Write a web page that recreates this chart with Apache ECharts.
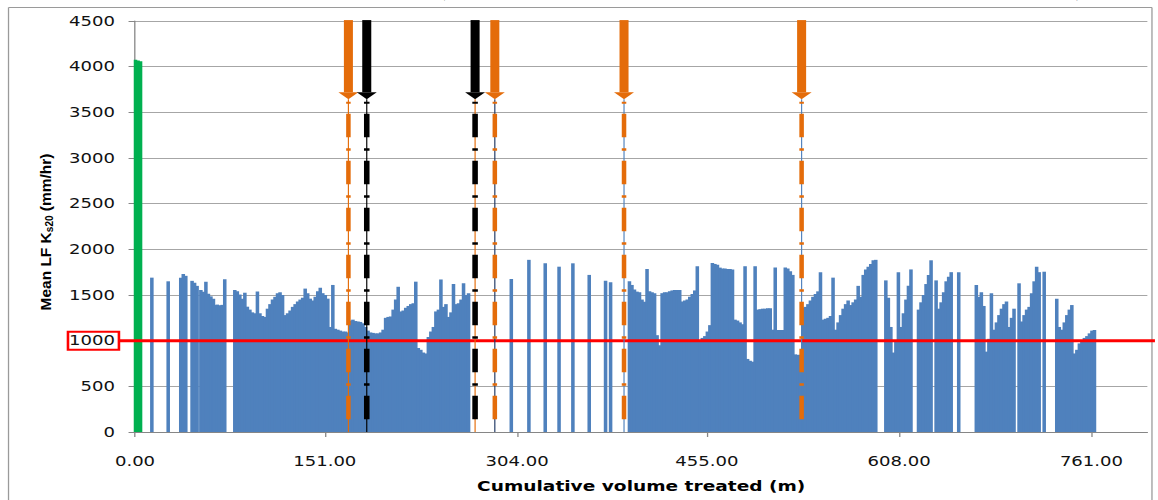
<!DOCTYPE html>
<html><head><meta charset="utf-8">
<script src="https://cdn.jsdelivr.net/npm/echarts@6/dist/echarts.min.js"></script>
<style>
html,body{margin:0;padding:0;background:#fff;overflow:hidden;width:1158px;height:500px}
#main{width:897.67px;height:500px;transform:scaleX(1.29);transform-origin:0 0;}
</style>
</head><body><div id="main"></div>
<script>
// ---------------- DATA ----------------
const xTickLabels = [0, 151, 304, 455, 608, 761];
const yMax = 4500;
const threshold = 1000;

const greenX = [0, 2, 4];
const greenValues = [4075, 4068, 4060];

const barStep = 2; // spacing of consecutive volumes inside a run
const blueRunStart = [13, 26, 36, 45, 52, 63, 79, 89, 299, 313, 326, 337, 348, 361, 374, 378, 393, 597, 623, 637, 655, 669, 695, 703, 713, 723, 733];
const blueRunValues = [
  [1690],
  [1650],
  [1690, 1730, 1710],
  [1655, 1635, 1600],
  [1555, 1535, 1645, 1515, 1485, 1460],
  [1390, 1395, 1388, 1392, 1672],
  [1555, 1540, 1505, 1460, 1525],
  [1372,1340,1310,1300,1537,1300,1270,1260,1350,1400,
   1450,1480,1520,1530,1500,1280,1300,1330,1370,1400,
   1430,1450,1470,1570,1520,1460,1440,1480,1540,1580,
   1520,1500,1460,1150,1610,1130,1120,1110,1100,1100,
   1090,1220,1230,1215,1210,1205,1190,1150,1110,1090,
   1085,1080,1080,1090,1120,1250,1260,1265,1340,1450,
   1590,1320,1330,1360,1380,1400,1410,1646,920,900,
   870,860,1040,1100,1150,1320,1340,1670,1370,1400,
   1260,1310,1620,1400,1410,1450,1630,1500,1520],
  [1675],
  [1885],
  [1847],
  [1810],
  [1847],
  [1720],
  [1657],
  [1640],
  [1650,1610,1560,1537,1530,1450,1427,1785,1540,1530,
   1520,1060,950,1520,1530,1530,1540,1550,1555,1555,
   1555,1430,1440,1450,1480,1510,1550,1815,1000,1030,
   1050,1100,1170,1850,1840,1830,1800,1790,1790,1785,
   1785,1780,1230,1220,1200,1180,1815,800,780,770,
   1815,1340,1345,1350,1350,1355,1355,1120,1800,1117,
   1117,1117,1800,1790,1760,1720,850,845,845,1360,
   1370,1400,1440,1480,1510,1540,1750,1230,1240,1250,
   1270,1690,1120,1200,1280,1350,1400,1440,1390,1420,
   1450,1600,1480,1720,1780,1810,1840,1880,1885],
  [1660,1470,1150,870,1000,1750,1150,1300,1450,1600,1780],
  [1340,1420,1500,1620,1720,1880],
  [1660,1350,1420,1530,1650,1700,1750],
  [1750],
  [1610,1480,1530,1380,880,1020,1520,1120,1200,1280,1350,1400,1430],
  [1150,1250,1350],
  [1628,1210,1280,1340,1370],
  [1520,1650,1810,1750],
  [1755],
  [1460,1150,1120,1200,1280,1340,1390,860,900,970,1000,1030,1050,1080,1110,1117]
];

// event markers (arrow + dash-dot line)
const markerX = [169.8, 184.4, 270.6, 286.3, 389.1, 530.4];
const markerKind = ['orange', 'black', 'black', 'orange', 'orange', 'orange'];
const arrowTop = 4510, arrowBase = 3720, arrowTip = 3643;
const lineTop = 3617, lineBottom = 137;

// ---------------- STYLE ----------------
const STRETCH = 1.29;
const BLUE = '#4f81bd', GREEN = '#00b050', ORANGE = '#e46c0a', RED = '#ff0000';
const kindStyle = {
  orange: {color: ORANGE, dashWidth: 3.5},
  black: {color: '#000000', dashWidth: 4.3}
};
const thinColors = [ORANGE, '#000000', ORANGE, '#1f3864', BLUE, BLUE];

// ---------------- BUILD ----------------
const greenData = greenX.map((x, i) => [x, greenValues[i]]);
const blueData = [];
blueRunStart.forEach((s, r) => {
  blueRunValues[r].forEach((v, i) => blueData.push([s + i * barStep, v]));
});

function barRenderer(color) {
  return (params, api) => {
    const x = api.value(0), v = api.value(1);
    const p = api.coord([x, v]);
    const p0 = api.coord([x, 0]);
    const w = api.size([barStep, 0])[0];
    return {type: 'rect', shape: {x: p[0] - w / 2, y: p[1], width: w + 0.8, height: p0[1] - p[1]}, style: {fill: color}};
  };
}

const chart = echarts.init(document.getElementById('main'), null, {renderer: 'svg'});
const tickFont = {fontFamily: '"DejaVu Sans", Verdana, sans-serif', fontSize: 14, color: '#111'};

chart.setOption({
  animation: false,
  grid: {left: 104.65, right: 8.57, top: 21, bottom: 68, containLabel: false},
  xAxis: {
    type: 'value', min: 0, max: 805.5,
    axisLine: {show: true, lineStyle: {color: '#868686', width: 1}},
    axisTick: {show: true, length: 5, customValues: xTickLabels, lineStyle: {color: '#868686'}},
    axisLabel: Object.assign({customValues: xTickLabels, margin: 22, formatter: v => Number(v).toFixed(2)}, tickFont),
    splitLine: {show: false},
    name: 'Cumulative volume treated (m)',
    nameLocation: 'middle', nameGap: 47,
    nameTextStyle: {fontFamily: '"DejaVu Sans", Verdana, sans-serif', fontWeight: 'bold', fontSize: 14.4, color: '#000'}
  },
  yAxis: {
    type: 'value', min: 0, max: yMax, interval: 500,
    axisLine: {show: true, lineStyle: {color: '#868686', width: 1}},
    axisTick: {show: true, length: 5, lineStyle: {color: '#868686'}},
    axisLabel: Object.assign({margin: 15.5, formatter: v => String(v)}, tickFont),
    splitLine: {show: true, lineStyle: {color: '#a6a6a6', width: 1}}
  },
  graphic: [
    {type: 'text', x: 148, y: -1.5, style: {text: 'Filtering capacity (Ks20 over time, top media renewal at clogging)', font: '26px "Liberation Serif", serif', fill: '#000', verticalAlign: 'bottom', align: 'left'}, silent: true},
    {type: 'text', x: 34.9, y: 232, rotation: Math.PI / 2, scaleY: 1 / STRETCH,
      style: {text: '{m|Mean LF K}{s|s20}{m| (mm/hr)}', align: 'center', verticalAlign: 'middle',
        rich: {
          m: {fontFamily: '"Liberation Sans", Arial, sans-serif', fontWeight: 'bold', fontSize: 15.5, lineHeight: 18, fill: '#000', verticalAlign: 'middle'},
          s: {fontFamily: '"Liberation Sans", Arial, sans-serif', fontWeight: 'bold', fontSize: 10, lineHeight: 10, fill: '#000', verticalAlign: 'bottom'}
        }}, silent: true}
  ],
  series: [
    {type: 'custom', data: greenData, renderItem: barRenderer(GREEN), z: 2, silent: true},
    {type: 'custom', data: blueData, renderItem: barRenderer(BLUE), z: 2, silent: true},
    {
      type: 'custom', z: 4, clip: false, silent: true,
      data: [[0, threshold]],
      renderItem: (params, api) => {
        const p = api.coord([0, api.value(1)]);
        return {type: 'group', children: [
          {type: 'line', shape: {x1: 6.6, y1: 7.5, x2: 893, y2: 7.5}, style: {stroke: '#9a9a9a', lineWidth: 1}},
          {type: 'line', shape: {x1: 6.6, y1: 7.5, x2: 6.6, y2: 500}, style: {stroke: '#9a9a9a', lineWidth: 1}},
          {type: 'line', shape: {x1: 893, y1: 7.5, x2: 893, y2: 500}, style: {stroke: '#9a9a9a', lineWidth: 1}},
          {type: 'line', shape: {x1: 93, y1: p[1], x2: 895.3, y2: p[1]}, style: {stroke: RED, lineWidth: 3}},
          {type: 'rect', shape: {x: 52.7, y: p[1] - 9, width: 39.5, height: 18}, style: {fill: 'none', stroke: RED, lineWidth: 2}}
        ]};
      }
    },
    {
      type: 'custom', z: 5, clip: false, silent: true,
      data: markerX.map(x => [x, arrowTop]),
      renderItem: (params, api) => {
        const i = params.dataIndex;
        const st = kindStyle[markerKind[i]];
        const x = api.value(0);
        const top = api.coord([x, arrowTop]);
        const base = api.coord([x, arrowBase]);
        const tip = api.coord([x, arrowTip]);
        const l1 = api.coord([x, lineTop]);
        const l2 = api.coord([x, lineBottom]);
        const ax = api.coord([x, 0]);
        const cx = top[0];
        const halfShaft = 3.5, halfHead = 7.75;
        return {type: 'group', children: [
          {type: 'line', shape: {x1: cx, y1: tip[1], x2: cx, y2: ax[1]}, style: {stroke: thinColors[i], lineWidth: 0.9}},
          {type: 'rect', shape: {x: cx - halfShaft, y: top[1], width: halfShaft * 2, height: base[1] - top[1]}, style: {fill: st.color}},
          {type: 'polygon', shape: {points: [[cx - halfHead, base[1]], [cx + halfHead, base[1]], [cx, tip[1]]]}, style: {fill: st.color}},
          {type: 'line', shape: {x1: cx, y1: l1[1], x2: cx, y2: l2[1]},
            style: {stroke: st.color, lineWidth: st.dashWidth, lineDash: [23.5, 11, 2.5, 10], lineDashOffset: 34.5, lineCap: 'butt'}}
        ]};
      }
    }
  ]
});
</script>
</body></html>
